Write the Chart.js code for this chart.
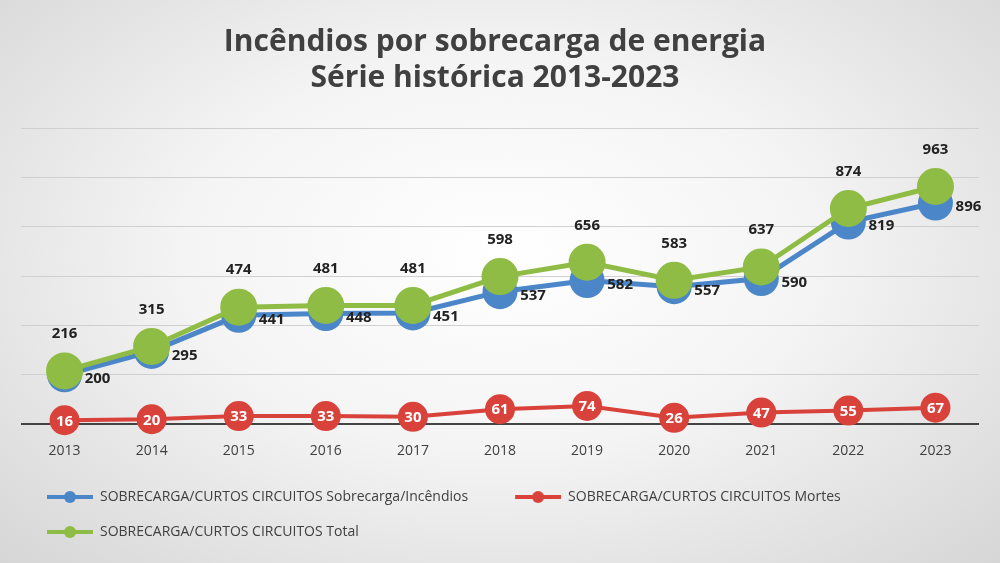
<!DOCTYPE html>
<html><head><meta charset="utf-8">
<script src="https://cdn.jsdelivr.net/npm/chart.js@4/dist/chart.umd.min.js"></script>
<style>
html,body{margin:0;padding:0;width:1000px;height:563px;overflow:hidden;
background:radial-gradient(ellipse at 50% 45%,#ffffff 0%,#f4f4f4 45%,#d6d6d6 100%);}
#c{display:block}
</style></head><body>
<canvas id="c" width="1000" height="563"></canvas>
<script>
const years=["2013","2014","2015","2016","2017","2018","2019","2020","2021","2022","2023"];
const incendios=[200,295,441,448,451,537,582,557,590,819,896];
const mortes=[16,20,33,33,30,61,74,26,47,55,67];
const total=[216,315,474,481,481,598,656,583,637,874,963];
const names=["SOBRECARGA/CURTOS CIRCUITOS Sobrecarga/Incêndios","SOBRECARGA/CURTOS CIRCUITOS Mortes","SOBRECARGA/CURTOS CIRCUITOS Total"];
const cols=["#4a86c8","#d9423b","#8fbc45"];
function marker(col){const m=document.createElement('canvas');m.width=72;m.height=14;const g=m.getContext('2d');
g.strokeStyle=col;g.lineWidth=4;g.beginPath();g.moveTo(26,7);g.lineTo(72,7);g.stroke();
g.fillStyle=col;g.beginPath();g.arc(49,7,6,0,Math.PI*2);g.fill();return m;}
const labelPlugin={id:'lbl',afterDatasetsDraw(ch){const ctx=ch.ctx;ctx.save();
ctx.font='bold 15px "Open Sans", Arial';ctx.textAlign='center';ctx.textBaseline='middle';
ch.data.datasets.forEach((ds,i)=>{const meta=ch.getDatasetMeta(i);meta.data.forEach((p,j)=>{
const v=ds.data[j];if(i===0){ctx.fillStyle='#222';ctx.fillText(v,p.x+33,p.y+4);}
else if(i===1){ctx.fillStyle='#fff';ctx.fillText(v,p.x,p.y+1);}
else{ctx.fillStyle='#222';ctx.fillText(v,p.x,p.y-37);}});});ctx.restore();}};
new Chart(document.getElementById('c'),{type:'line',
data:{labels:years,datasets:[
{label:names[0],data:incendios,borderColor:cols[0],backgroundColor:cols[0],borderWidth:5,pointRadius:15,pointHoverRadius:15,clip:false,order:2},
{label:names[1],data:mortes,borderColor:cols[1],backgroundColor:cols[1],borderWidth:4,pointRadius:13,pointHoverRadius:13,clip:false,order:1},
{label:names[2],data:total,borderColor:cols[2],backgroundColor:cols[2],borderWidth:5,pointRadius:16,pointHoverRadius:16,clip:false,order:0}]},
options:{responsive:false,animation:false,
layout:{padding:{left:0,right:10,top:0,bottom:14}},
plugins:{tooltip:{enabled:false},
title:{display:true,text:["Incêndios por sobrecarga de energia","Série histórica 2013-2023"],color:'#404040',
font:{family:'"Open Sans", Arial',size:30,weight:'bold'},lineHeight:1.45,padding:{top:24,bottom:32}},
legend:{position:'bottom',align:'start',labels:{color:'#404040',font:{family:'"Open Sans", Arial',size:14},
usePointStyle:true,pointStyleWidth:72,padding:21,
generateLabels(ch){return names.map((n,i)=>({text:n,pointStyle:marker(cols[i]),fillStyle:cols[i],strokeStyle:cols[i],lineWidth:0,datasetIndex:i,fontColor:'#404040'}));}}}},
scales:{x:{offset:true,grid:{display:false},border:{display:false},ticks:{color:'#404040',padding:10,font:{family:'"Open Sans", Arial',size:14}}},
y:{min:0,max:1200,afterFit(s){s.width=0;},ticks:{display:false,stepSize:200},border:{display:false},
grid:{color:c=>c.tick&&c.tick.value===0?'#444':'#d0d0d0',lineWidth:c=>c.tick&&c.tick.value===0?2:1,drawTicks:false}}}},
plugins:[labelPlugin]});
</script></body></html>
